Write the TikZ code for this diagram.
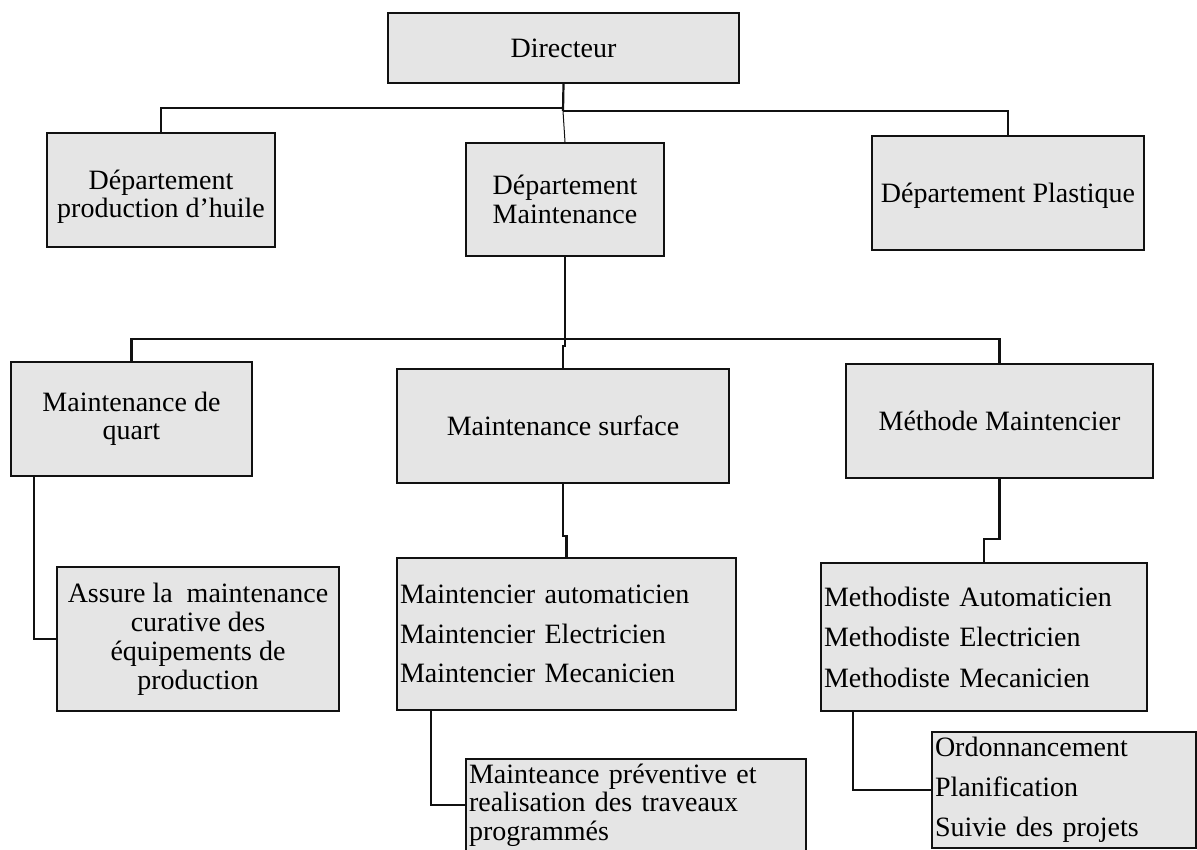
\documentclass[tikz,border=0pt]{standalone}
\usepackage{fontspec}
\setmainfont{Liberation Serif}
\usetikzlibrary{calc}
\definecolor{boxfill}{HTML}{E5E5E5}
\definecolor{inkline}{HTML}{111111}
\begin{document}
\begin{tikzpicture}[x=1pt,y=-1pt,
  box/.style={draw=inkline, fill=boxfill, line width=2.2pt, inner sep=0pt,
    align=center, font=\fontsize{28}{28.5}\selectfont},
  listbox/.style={box, align=left, inner xsep=3pt},
  link/.style={draw=inkline, line width=2.2pt},
  thinlink/.style={draw=inkline, line width=1pt}]
\useasboundingbox (0,0) rectangle (1197,850);
\fill[white] (0,0) rectangle (1197,850);

% top level
\node[box, minimum width=351pt, minimum height=70pt] (dir) at (563.5,48) {Directeur};

% departments
\node[box, minimum width=228pt, minimum height=114pt] (dpo) at (161,190)
  {\rule{0pt}{33pt}Département\\production d’huile};
\node[box, minimum width=198pt, minimum height=113pt] (dma) at (565,199.5)
  {Département\\Maintenance};
\node[box, minimum width=272pt, minimum height=114pt] (dpl) at (1008,193)
  {\rule{0pt}{24pt}Département Plastique};

% maintenance services
\node[box, minimum width=241pt, minimum height=114pt] (mq) at (131.5,419)
  {Maintenance de\\quart};
\node[box, minimum width=332pt, minimum height=114pt] (ms) at (563,426)
  {Maintenance surface};
\node[box, minimum width=307pt, minimum height=114pt] (mm) at (999.5,421)
  {Méthode Maintencier};

% staff and tasks
\node[box, font=\fontsize{28}{29}\selectfont, minimum width=282pt, minimum height=144pt] (ass) at (198,639)
  {Assure la\ \ maintenance\\curative des\\équipements de\\production};
\node[listbox, text width=333pt, minimum height=152pt] (mtc) at (566.5,634)
  {Maintencier automaticien\\[11pt]Maintencier Electricien\\[11pt]Maintencier Mecanicien};
\node[listbox, text width=320pt, minimum height=148pt] (mth) at (984,637)
  {Methodiste Automaticien\\[12pt]Methodiste Electricien\\[12pt]Methodiste Mecanicien};
\node[listbox, text width=334pt, minimum height=92pt] (mpv) at (636,805)
  {Mainteance préventive et\\realisation des traveaux\\programmés};
\node[listbox, text width=258pt, minimum height=116pt] (ord) at (1064,790)
  {Ordonnancement\\[11.5pt]Planification\\[11.5pt]Suivie des projets};

% connectors: first level
\coordinate (hubL) at (563,108);
\coordinate (hubR) at (563,111);
\draw[link] (dir.south) -- (hubR);
\draw[link] (hubL) -| (dpo.north);
\draw[link] (hubR) -| (dpl.north);
\draw[thinlink] (hubR) -- (dma.north);

% connectors: second level
\coordinate (hubM) at (565,339);
\draw[link] (dma.south) -- (hubM);
\draw[link] (hubM) -| (mq.north);
\draw[link] (hubM) -| (mm.north);
\draw[link] (hubM) -- ++(0,7) -| (ms.north);

% connectors: third level
\draw[link] ($(mq.south west)+(24,0)$) |- (ass.west);
\draw[link] (ms.south) -- ++(0,52) -| (mtc.north);
\draw[link] ($(mtc.south west)+(35,0)$) |- (mpv.west);
\draw[link] (mm.south) -- ++(0,60) -| (mth.north);
\draw[link] ($(mth.south west)+(33,0)$) |- (ord.west);
\end{tikzpicture}
\end{document}
